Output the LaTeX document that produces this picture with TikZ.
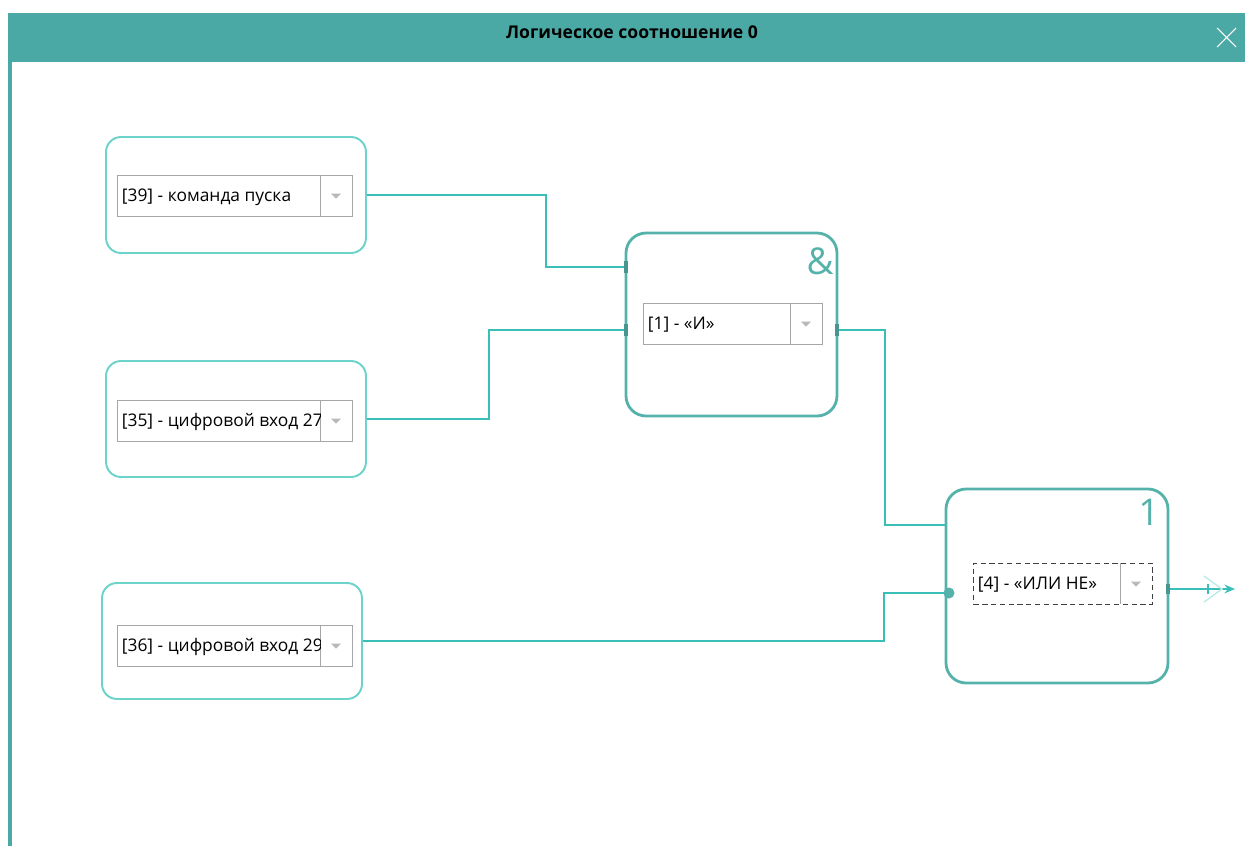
\documentclass[tikz,border=0pt]{standalone}
\usepackage{fontspec}
\setmainfont{Open Sans}
\usetikzlibrary{arrows.meta}

\begin{document}
\begin{tikzpicture}[x=0.02cm, y=-0.02cm,
  inbox/.style={draw=boxteal, line width=1.1pt, rounded corners=0.3cm, minimum width=5.2cm, minimum height=2.32cm},
  gate/.style={draw=gateteal, line width=1.6pt, rounded corners=0.4cm},
  combobox/.style={draw=gray!70, line width=0.5pt, fill=white, minimum height=0.82cm, inner sep=0pt, anchor=north west},
  combotext/.style={anchor=west, inner sep=2pt, font=\fontsize{9.9}{11}\selectfont},
  gatesign/.style={text=gateteal, font=\fontsize{21}{24}\selectfont, inner sep=0pt},
  wire/.style={draw=wireteal, line width=1.1pt},
  port/.style={draw=gateteal!85!black, line width=2pt}]

\definecolor{barteal}{RGB}{74,169,164}
\definecolor{gateteal}{RGB}{84,178,170}
\definecolor{boxteal}{RGB}{108,211,203}
\definecolor{wireteal}{RGB}{58,190,184}

% Auswahlfeld: Name, x, y, Breite, Text, Rahmen
\def\combo#1#2#3#4#5#6{%
  \node[combobox, minimum width=#4*0.02cm, #6] (#1) at (#2,#3) {};
  \draw[gray!70, line width=0.5pt] (#2+#4-32,#3) -- (#2+#4-32,#3+41);
  \fill[gray!55] (#2+#4-21,#3+18.5) -- (#2+#4-11,#3+18.5) -- (#2+#4-16,#3+23.5) -- cycle;
  \begin{scope}
    \clip (#2,#3) rectangle (#2+#4-32,#3+41);
    \node[combotext] (#1t) at (#2+1,#3+22) {#5};
  \end{scope}
}

\useasboundingbox (0,0) rectangle (1245,846);

% Fensterrahmen
\fill[barteal] (8,13) rectangle (1245,62);
\fill[barteal] (8,62) rectangle (12,846);
\node[font=\bfseries\fontsize{10}{12}\selectfont] (title) at (632,32) {Логическое соотношение 0};
\draw[white, line width=0.6pt] (1217,28) -- (1236,47) (1236,28) -- (1217,47);

% Eingaenge
\node[inbox] (in1) at (236,195) {};
\node[inbox] (in2) at (236,419) {};
\node[inbox] (in3) at (232,641) {};

\combo{c1}{117}{175}{235}{[39] - команда пуска}{}
\combo{c2}{117}{400}{235}{[35] - цифровой вход 27}{}
\combo{c3}{117}{625}{235}{[36] - цифровой вход 29}{}

% Gatter
\node[gate, minimum width=4.22cm, minimum height=3.66cm] (g1) at (731.5,324.5) {};
\node[gate, minimum width=4.44cm, minimum height=3.88cm] (g2) at (1057,586) {};
\node[gatesign] (g1sign) at (820,261) {\&};
\node[gatesign] (g2sign) at (1149,512) {1};

\combo{c4}{643}{303}{179}{[1] - «И»}{}
\combo{c5}{973}{563}{179}{[4] - «ИЛИ НЕ»}{draw=black!75, densely dashed}

\coordinate (g1i1) at (626,267);
\coordinate (g1i2) at (626,330);
\coordinate (g1o) at (837,330);
\coordinate (g2i1) at (946,525);
\coordinate (g2i2) at (946,593);
\coordinate (g2o) at (1168,589);
\coordinate (outend) at (1235,589);

% Verbindungen
\draw[wire] (in1.east) -| (546,0 |- g1i1) -- (g1i1);
\draw[wire] (in2.east) -| (489,0 |- g1i2) -- (g1i2);
\draw[wire] (g1o) -| (885,0 |- g2i1) -- (g2i1);
\draw[wire] (in3.east) -| (884,0 |- g2i2) -- (g2i2);
\draw[wire, -{Stealth[length=6pt, width=5pt]}] (g2o) -- (outend);

% Anschluesse
\draw[port] (g1i1) ++(0,-6) -- ++(0,12);
\draw[port] (g1i2) ++(0,-6) -- ++(0,12);
\draw[port] (g1o) ++(0,-6) -- ++(0,12);
\draw[port] (g2o) ++(0,-5) -- ++(0,10);
\fill[gateteal] (g2i2) ++(3,0) circle (5.5);
\draw[wireteal, line width=0.6pt] (1208,584) -- (1208,594);
\draw[boxteal!45, line width=0.8pt] (1204,576) -- (1222,589) -- (1204,602);

\end{tikzpicture}
\end{document}
